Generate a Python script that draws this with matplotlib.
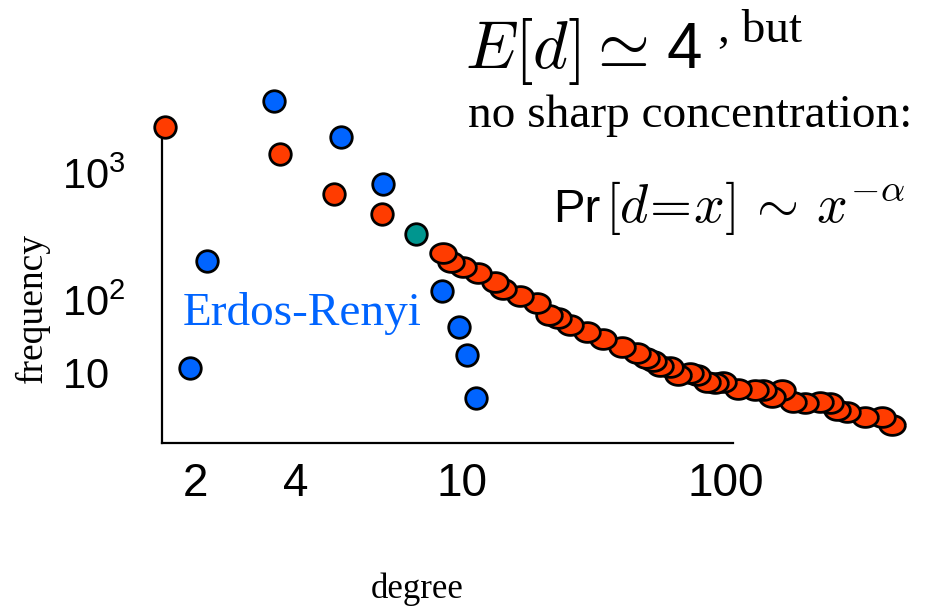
import numpy as np
import matplotlib.pyplot as plt
from matplotlib.ticker import NullLocator

plt.rcParams['mathtext.fontset'] = 'cm'

# degree / frequency readings (power-law network, orange)
pl_degree = [1.63, 3.58, 4.93, 6.43]
pl_freq = [2300, 1413, 684, 475]

# long tail of the power-law distribution
tail_degree = [9.00, 9.41, 10.1, 11.5, 13.3, 14.3, 16.6, 19.2, 21.4, 23.1,
               25.7, 29.8, 34.2, 40.4, 46.0, 49.8, 52.9, 56.2, 61.4, 65.8,
               73.1, 77.7, 84.8, 90.9, 97.4, 111, 129, 138, 149, 163,
               179, 199, 227, 248, 263, 287, 336, 390, 426]
tail_freq = [234, 199, 182, 163, 139, 122, 108, 91.0, 62.3, 56.7,
             45.4, 36.4, 29.2, 22.7, 18.8, 16.1, 14.6, 12.5, 12.1, 9.39,
             10.0, 9.39, 7.53, 7.29, 7.53, 6.04, 5.85, 5.85, 4.69, 5.85,
             4.01, 3.88, 4.01, 3.88, 3.11, 2.92, 2.50, 2.50, 1.94]

# Erdos-Renyi (blue)
er_degree = [1.93, 2.17, 3.44, 5.13, 6.47, 8.96, 9.83, 10.45, 11.3]
er_freq = [11.7, 203, 3690, 1920, 819, 118, 42.7, 17.6, 4.55]

# point where both coincide (teal)
both_degree = [7.76]
both_freq = [331]

xtick_vals = [2, 4, 10, 100]
xtick_labels = ['2', '4', '10', '100']
ytick_vals = [10, 100, 1000]
ytick_labels = [r'$\mathregular{10}$', r'$\mathregular{10^2}$', r'$\mathregular{10^3}$']

ORANGE = '#ff3c00'
BLUE = '#0064ff'
TEAL = '#00968f'


def warp(vals, pos):
    '''Piecewise log scale: log10(vals) is mapped linearly onto pos between knots.'''
    lv = np.log10(vals)
    pos = np.asarray(pos, float)
    s0 = (pos[1] - pos[0]) / (lv[1] - lv[0])
    s1 = (pos[-1] - pos[-2]) / (lv[-1] - lv[-2])

    def fwd(v):
        l = np.log10(np.clip(np.asarray(v, float), 1e-12, None))
        out = np.interp(l, lv, pos)
        out = np.where(l < lv[0], pos[0] + (l - lv[0]) * s0, out)
        out = np.where(l > lv[-1], pos[-1] + (l - lv[-1]) * s1, out)
        return out

    def inv(p):
        p = np.asarray(p, float)
        l = np.interp(p, pos, lv)
        l = np.where(p < pos[0], lv[0] + (p - pos[0]) / s0, l)
        l = np.where(p > pos[-1], lv[-1] + (p - pos[-1]) / s1, l)
        return 10 ** l

    return fwd, inv


W, H = 932, 609
fig = plt.figure(figsize=(W / 100, H / 100), dpi=100)
ax = fig.add_axes([162 / W, 166 / H, 571 / W, 316 / H])

ax.set_xscale('function', functions=warp(xtick_vals, [195, 296, 462, 726]))
ax.set_yscale('function', functions=warp(ytick_vals, [0, 73, 200]))
ax.set_xlim(1.594, 106.3)
ax.set_ylim(1.099, 2301)

t = np.linspace(0, 2 * np.pi, 60)
ellipse = np.column_stack([1.3 * np.cos(t), np.sin(t)])

kw = dict(linestyle='none', markeredgecolor='black', markeredgewidth=2,
          clip_on=False, zorder=3)
ax.plot(tail_degree[::-1], tail_freq[::-1], marker=ellipse, ms=18.5,
        markerfacecolor=ORANGE, **kw)
ax.plot(pl_degree, pl_freq, marker='o', ms=15.5, markerfacecolor=ORANGE, **kw)
ax.plot(er_degree, er_freq, marker='o', ms=15.5, markerfacecolor=BLUE, **kw)
ax.plot(both_degree, both_freq, marker='o', ms=15.5, markerfacecolor=TEAL, **kw)

for side in ['top', 'right']:
    ax.spines[side].set_visible(False)
for side in ['left', 'bottom']:
    ax.spines[side].set_linewidth(1.6)
    ax.spines[side].set_color('black')

ax.set_xticks(xtick_vals, labels=xtick_labels)
ax.set_yticks(ytick_vals, labels=ytick_labels)
ax.xaxis.set_minor_locator(NullLocator())
ax.yaxis.set_minor_locator(NullLocator())
ax.tick_params(axis='x', length=0, pad=14, labelsize=33)
ax.tick_params(axis='y', length=0, pad=72, labelsize=30)
for lab in ax.get_xticklabels():
    lab.set_fontfamily('Liberation Sans')
for lab in ax.get_yticklabels():
    lab.set_fontfamily('Liberation Sans')
    lab.set_horizontalalignment('left')


def px(x, y):
    return x / W, 1 - y / H


serif = 'Liberation Serif'
sans = 'Liberation Sans'
fig.text(*px(465, 68), r'$E[d] \simeq$', fontsize=48, va='baseline')
fig.text(*px(666, 68), '4', fontsize=46, family=sans, va='baseline')
fig.text(*px(718, 42), ', but', fontsize=34, family=serif, va='baseline')
fig.text(*px(468, 127), 'no sharp concentration:', fontsize=34, family=serif,
         va='baseline')
fig.text(*px(553, 222), 'Pr', fontsize=34, family=sans, va='baseline')
fig.text(*px(605, 222), r'$[d\!=\!x] \,\sim\, x^{-\alpha}$', fontsize=39,
         va='baseline')
fig.text(*px(183, 325), 'Erdos-Renyi', fontsize=34, family=serif, color=BLUE,
         va='baseline')
fig.text(*px(417, 598), 'degree', fontsize=25, family=serif, ha='center',
         va='baseline')
fig.text(*px(42, 308), 'frequency', fontsize=27, family=serif, rotation=90,
         ha='center', va='baseline', rotation_mode='anchor')

fig.savefig('out.png', dpi=100, facecolor='white')
